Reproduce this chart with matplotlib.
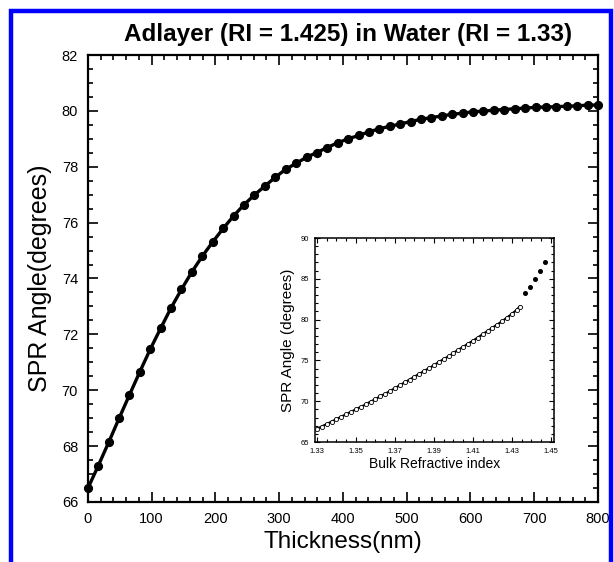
import matplotlib.pyplot as plt
from matplotlib.patches import Rectangle
from matplotlib.ticker import MultipleLocator

plt.rcParams['font.family'] = ['Liberation Sans', 'DejaVu Sans']

# main curve: adlayer thickness (nm) vs SPR angle (deg)
thickness = [0, 16.3, 32.7, 49.0, 65.3, 81.6, 98.0, 114.3, 130.6, 146.9,
             163.3, 179.6, 195.9, 212.2, 228.6, 244.9, 261.2, 277.6, 293.9, 310.2,
             326.5, 342.9, 359.2, 375.5, 391.8, 408.2, 424.5, 440.8, 457.1, 473.5,
             489.8, 506.1, 522.4, 538.8, 555.1, 571.4, 587.8, 604.1, 620.4, 636.7,
             653.1, 669.4, 685.7, 702.0, 718.4, 734.7, 751.0, 767.3, 783.7, 800.0]
angle = [66.48, 67.29, 68.13, 68.99, 69.83, 70.66, 71.47, 72.22, 72.95, 73.61,
         74.24, 74.80, 75.31, 75.79, 76.24, 76.64, 76.99, 77.31, 77.62, 77.91,
         78.12, 78.34, 78.51, 78.69, 78.86, 79.00, 79.12, 79.25, 79.36, 79.45,
         79.53, 79.62, 79.70, 79.76, 79.82, 79.88, 79.92, 79.97, 79.99, 80.03,
         80.05, 80.08, 80.10, 80.13, 80.14, 80.15, 80.17, 80.18, 80.21, 80.21]

# inset: bulk refractive index vs SPR angle
ri_open = [1.3300, 1.3325, 1.3350, 1.3375, 1.3400, 1.3425, 1.3450, 1.3475, 1.3500, 1.3525,
           1.3550, 1.3575, 1.3600, 1.3625, 1.3650, 1.3675, 1.3700, 1.3725, 1.3750, 1.3775,
           1.3800, 1.3825, 1.3850, 1.3875, 1.3900, 1.3925, 1.3950, 1.3975, 1.4000, 1.4025,
           1.4050, 1.4075, 1.4100, 1.4125, 1.4150, 1.4175, 1.4200, 1.4225, 1.4250, 1.4275,
           1.4300, 1.4325, 1.4340]
ang_open = [66.6, 66.9, 67.2, 67.5, 67.8, 68.1, 68.4, 68.7, 69.0, 69.3,
            69.6, 69.95, 70.25, 70.6, 70.9, 71.25, 71.6, 71.95, 72.3, 72.65,
            73.0, 73.35, 73.7, 74.05, 74.4, 74.8, 75.15, 75.5, 75.9, 76.3,
            76.65, 77.05, 77.4, 77.8, 78.2, 78.6, 79.0, 79.4, 79.8, 80.25,
            80.7, 81.2, 81.6]
ri_filled = [1.4367, 1.4392, 1.4418, 1.4444, 1.4468]
ang_filled = [83.2, 84.0, 85.0, 86.0, 87.1]

fig = plt.figure(figsize=(6.14, 5.62), dpi=100)
ax = fig.add_axes([0.143, 0.107, 0.831, 0.795])

ax.plot(thickness, angle, color='black', linewidth=2.4, zorder=2)
ax.plot(thickness, angle, 'o', color='black', markersize=5.6, zorder=3, clip_on=False)

ax.set_xlim(0, 800)
ax.set_ylim(66, 82)
ax.xaxis.set_major_locator(MultipleLocator(100))
ax.xaxis.set_minor_locator(MultipleLocator(20))
ax.yaxis.set_major_locator(MultipleLocator(2))
ax.yaxis.set_minor_locator(MultipleLocator(0.5))
ax.tick_params(which='both', direction='in', top=True, right=True, width=1.2)
ax.tick_params(which='major', length=7, labelsize=10.5, pad=7)
ax.tick_params(which='minor', length=3.5)
for s in ax.spines.values():
    s.set_linewidth(1.6)

ax.set_xlabel('Thickness(nm)', fontsize=17.5, labelpad=4)
ax.set_ylabel('SPR Angle(degrees)', fontsize=18, labelpad=7)
ax.set_title('Adlayer (RI = 1.425) in Water (RI = 1.33)', fontsize=17.5,
             fontweight='bold', pad=10, x=0.51)

# inset
ins = fig.add_axes([0.513, 0.2135, 0.389, 0.363])
ins.plot(ri_open, ang_open, color='black', linewidth=1.6, zorder=2)
ins.plot(ri_open, ang_open, 'o', markerfacecolor='white', markeredgecolor='black',
         markersize=3, markeredgewidth=0.6, zorder=3)
ins.plot(ri_filled, ang_filled, 'o', color='black', markersize=2.6, zorder=3)

ins.set_xlim(1.329, 1.4515)
ins.set_ylim(65, 90)
ins.set_xticks([1.33, 1.35, 1.37, 1.39, 1.41, 1.43, 1.45])
ins.set_xticklabels(['1.33', '1.35', '1.37', '1.39', '1.41', '1.43', '1.45'])
ins.xaxis.set_minor_locator(MultipleLocator(0.005))
ins.yaxis.set_major_locator(MultipleLocator(5))
ins.yaxis.set_minor_locator(MultipleLocator(1))
ins.tick_params(which='both', direction='in', top=True, right=True, width=0.8)
ins.tick_params(which='major', length=3.5, labelsize=5.5, pad=4)
ins.tick_params(which='minor', length=2)
for s in ins.spines.values():
    s.set_linewidth(1.1)
ins.set_xlabel('Bulk Refractive index', fontsize=10, labelpad=2)
ins.set_ylabel('SPR Angle (degrees)', fontsize=11, labelpad=4)

# blue frame around the figure (bottom edge is cut off)
fig.add_artist(Rectangle((10.5 / 614, -0.05), 600 / 614, (562 - 11.3) / 562 + 0.05,
                         transform=fig.transFigure, fill=False,
                         edgecolor='#0000ff', linewidth=3.2))

fig.savefig('out.png', dpi=100)
